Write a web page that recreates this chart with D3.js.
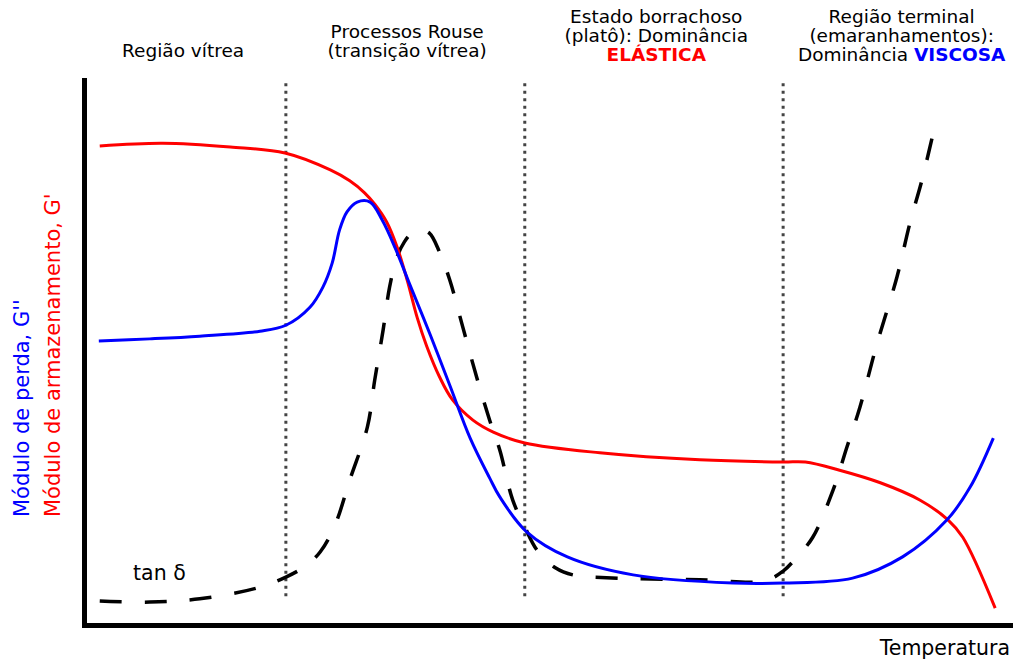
<!DOCTYPE html>
<html>
<head>
<meta charset="utf-8">
<script src="https://cdn.jsdelivr.net/npm/d3@7"></script>
<style>
  html, body { margin: 0; padding: 0; background: #fff; }
  svg { display: block; font-family: "DejaVu Sans", sans-serif; }
</style>
</head>
<body>
<svg id="chart" width="1014" height="661"></svg>
<script>
// Relative temperature (0–100) and relative modulus / damping level (0–100)
const storageT   = [1.7, 8.5, 15.8, 21.7, 26.6, 28.7, 30.3, 31.4, 32.7, 33.8, 34.9, 36.0, 37.0, 38.4, 39.8, 42.0, 44.2, 47.6, 55.7, 66.5, 75.5, 77.9, 81.6, 86.0, 90.3, 93.3, 94.9, 98.4];
const storageMod = [87.9, 88.4, 87.7, 86.6, 83.5, 81.5, 79.3, 77.2, 73.9, 69.4, 63.3, 56.3, 51.2, 45.5, 41.3, 37.6, 35.4, 33.4, 31.6, 30.3, 29.9, 29.9, 28.4, 26.1, 22.9, 19.3, 16.1, 3.1];

const lossT   = [1.6, 7.1, 12.5, 19.0, 21.8, 24.4, 25.8, 26.8, 27.6, 28.4, 29.5, 30.9, 32.2, 33.6, 35.2, 37.4, 39.5, 41.7, 43.8, 44.9, 47.8, 52.2, 59.3, 70.1, 75.5, 83.0, 88.4, 93.2, 95.7, 98.2];
const lossMod = [52.1, 52.5, 53.0, 53.9, 55.0, 58.3, 62.0, 66.4, 72.5, 75.8, 77.6, 77.6, 74.3, 69.2, 62.4, 53.2, 44.0, 34.3, 27.0, 23.5, 17.1, 12.5, 9.2, 7.7, 7.7, 8.6, 12.5, 19.3, 25.3, 34.3];

const tanT     = [1.7, 7.1, 12.5, 18.7, 21.8, 23.9, 25.5, 27.1, 28.7, 30.6, 31.4, 32.3, 33.0, 33.8, 34.6, 35.4, 36.3, 37.3, 38.4, 39.5, 40.9, 42.4, 43.8, 44.9, 46.3, 47.6, 48.9, 50.9, 52.8, 57.6, 66.5, 73.5, 75.5, 77.0, 78.7, 80.9, 82.4, 83.8, 85.6, 87.8, 89.2, 90.5, 91.9];
const tanDelta = [4.4, 4.2, 4.8, 6.8, 8.8, 10.8, 13.4, 18.3, 26.6, 36.3, 45.0, 54.1, 62.0, 67.5, 70.3, 71.9, 72.5, 71.9, 68.4, 63.3, 54.7, 45.5, 37.6, 32.1, 22.9, 18.0, 13.8, 10.5, 9.2, 8.6, 8.3, 8.1, 9.9, 12.5, 16.1, 24.8, 32.7, 40.0, 51.4, 63.9, 73.8, 81.7, 91.7];

// Region boundaries and region captions
const boundaries = [21.8, 47.6, 75.5];
const boundarySpan = [4.6, 99.4];
const regionCenters = [10.7, 34.9, 61.8, 88.3];
const regionLines = [
  [["Região vítrea"]],
  [["Processos Rouse"], ["(transição vítrea)"]],
  [["Estado borrachoso"], ["(platô): Dominância"], ["", "ELÁSTICA", "red"]],
  [["Região terminal"], ["(emaranhamentos):"], ["Dominância ", "VISCOSA", "blue"]]
];
const regionBaselines = [[57], [38, 57], [23, 42, 61], [23, 42, 61]];

const svg = d3.select("#chart");
const x = d3.scaleLinear().domain([0, 100]).range([84, 1010]);
const y = d3.scaleLinear().domain([0, 100]).range([625, 80]);

// Axes: bare spines, no ticks
const axL = svg.append("g").attr("transform", `translate(${x(0)},0)`)
  .call(d3.axisLeft(y).tickValues([]).tickSizeOuter(0));
const axB = svg.append("g").attr("transform", `translate(0,${y(0)})`)
  .call(d3.axisBottom(x).tickValues([]).tickSizeOuter(0));
[axL, axB].forEach(a => a.select(".domain")
  .attr("stroke", "#000").attr("stroke-width", 5).attr("stroke-linecap", "square"));

// Dotted region boundaries
svg.append("g").selectAll("line").data(boundaries).join("line")
  .attr("x1", d => x(d)).attr("x2", d => x(d))
  .attr("y1", y(boundarySpan[1])).attr("y2", y(boundarySpan[0]))
  .attr("stroke", "#444").attr("stroke-width", 3)
  .attr("stroke-dasharray", "3,4.5");

const line = d3.line().x(d => x(d[0])).y(d => y(d[1])).curve(d3.curveCatmullRom.alpha(0.5));

// tan δ (dashed)
svg.append("path").datum(d3.zip(tanT, tanDelta))
  .attr("d", line).attr("fill", "none")
  .attr("stroke", "#000").attr("stroke-width", 3.5)
  .attr("stroke-dasharray", "22,23");

// Storage modulus G'
svg.append("path").datum(d3.zip(storageT, storageMod))
  .attr("d", line).attr("fill", "none")
  .attr("stroke", "#ff0000").attr("stroke-width", 3);

// Loss modulus G''
svg.append("path").datum(d3.zip(lossT, lossMod))
  .attr("d", line).attr("fill", "none")
  .attr("stroke", "#0000ff").attr("stroke-width", 3);

// Region captions
regionLines.forEach((lines, i) => {
  lines.forEach((parts, j) => {
    const t = svg.append("text")
      .attr("x", x(regionCenters[i])).attr("y", regionBaselines[i][j])
      .attr("text-anchor", "middle").attr("font-size", 18.5).attr("fill", "#000");
    t.append("tspan").text(parts[0]);
    if (parts.length > 1) {
      t.append("tspan").text(parts[1]).attr("fill", parts[2]).attr("font-weight", "bold");
    }
  });
});

// tan δ label
svg.append("text").attr("x", x(5.3)).attr("y", y(8.3))
  .attr("font-size", 20.5).attr("fill", "#000").text("tan δ");

// Axis titles
svg.append("text").attr("x", 1010).attr("y", 655)
  .attr("text-anchor", "end").attr("font-size", 20.5).attr("fill", "#000")
  .text("Temperatura");

svg.append("text").attr("transform", "translate(28.5,517) rotate(-90)")
  .attr("font-size", 21).attr("fill", "#0000ff").text("Módulo de perda, G''");
svg.append("text").attr("transform", "translate(60,517) rotate(-90)")
  .attr("font-size", 21).attr("fill", "#ff0000").text("Módulo de armazenamento, G'");
</script>
</body>
</html>
